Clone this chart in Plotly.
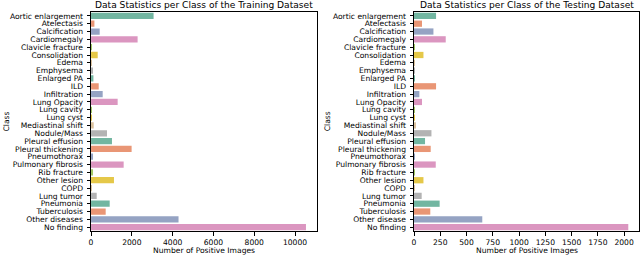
import colorsys
import plotly.graph_objects as go
from plotly.subplots import make_subplots

train_classes = ["Aortic enlargement", "Atelectasis", "Calcification", "Cardiomegaly",
                 "Clavicle fracture", "Consolidation", "Edema", "Emphysema", "Enlarged PA",
                 "ILD", "Infiltration", "Lung Opacity", "Lung cavity", "Lung cyst",
                 "Mediastinal shift", "Nodule/Mass", "Pleural effusion", "Pleural thickening",
                 "Pneumothorax", "Pulmonary fibrosis", "Rib fracture", "Other lesion", "COPD",
                 "Lung tumor", "Pneumonia", "Tuberculosis", "Other diseases", "No finding"]
test_classes = train_classes[:-2] + ["Other disease", "No finding"]

train_counts = [3067, 166, 425, 2284, 20, 328, 5, 50, 117, 377, 572, 1306, 20, 15,
                132, 783, 1027, 1990, 80, 1600, 60, 1125, 10, 279, 915, 719, 4290, 10537]
test_counts = [210, 76, 185, 302, 2, 90, 2, 3, 5, 210, 51, 76, 2, 2,
               10, 166, 105, 159, 7, 207, 4, 90, 2, 73, 244, 155, 650, 2040]

train_ticks = [0, 2000, 4000, 6000, 8000, 10000]
test_ticks = [0, 250, 500, 750, 1000, 1250, 1500, 1750, 2000]

titles = ["Data Statistics per Class of the Training Dataset",
          "Data Statistics per Class of the Testing Dataset"]
x_title = "Number of Positive Images"
y_title = "Class"

set2 = ["#66c2a5", "#fc8d62", "#8da0cb", "#e78ac3", "#a6d854", "#ffd92f", "#e5c494", "#b3b3b3"]


def desat(hexc, s=0.75):
    r, g, b = (int(hexc[i:i + 2], 16) / 255 for i in (1, 3, 5))
    h, l, sat = colorsys.rgb_to_hls(r, g, b)
    r, g, b = colorsys.hls_to_rgb(h, l, sat * s)
    return "rgb(%d,%d,%d)" % (round(r * 255), round(g * 255), round(b * 255))


pal = [desat(c) for c in set2]
colors = [pal[i % 8] for i in range(len(train_classes))]

W, H = 640, 256
FONT = "DejaVu Sans"
fig = make_subplots(rows=1, cols=2)

fig.add_trace(go.Bar(x=train_counts, y=train_classes, orientation="h",
                     marker=dict(color=colors, line=dict(width=0))), row=1, col=1)
fig.add_trace(go.Bar(x=test_counts, y=test_classes, orientation="h",
                     marker=dict(color=colors, line=dict(width=0))), row=1, col=2)

top, bottom = 12, 232
ydom = [1 - bottom / H, 1 - top / H]
xdoms = [[89.3 / W, 315.7 / W], [413.3 / W, 639 / W]]

axcommon = dict(showline=True, linecolor="black", linewidth=1, mirror=True,
                ticks="outside", ticklen=3.5, tickwidth=0.8, tickcolor="black",
                showgrid=False, zeroline=False,
                tickfont=dict(family=FONT, size=7.6, color="black"))

fig.update_xaxes(**axcommon)
fig.update_yaxes(**axcommon)
fig.update_layout(
    xaxis=dict(domain=xdoms[0], range=[0, max(train_counts) * 1.05],
               tickmode="array", tickvals=train_ticks, ticktext=[str(v) for v in train_ticks]),
    xaxis2=dict(domain=xdoms[1], range=[0, max(test_counts) * 1.05],
                tickmode="array", tickvals=test_ticks, ticktext=[str(v) for v in test_ticks]),
    yaxis=dict(domain=ydom, autorange="reversed", type="category", ticklabelstandoff=2,
               tickmode="array", tickvals=train_classes, ticktext=train_classes),
    yaxis2=dict(domain=ydom, autorange="reversed", type="category", ticklabelstandoff=2,
                tickmode="array", tickvals=test_classes, ticktext=test_classes),
)

ann = []
for i in range(2):
    cx = (xdoms[i][0] + xdoms[i][1]) / 2
    ann.append(dict(text=titles[i], x=cx, y=1 - 5.5 / H, xref="paper", yref="paper",
                    xanchor="center", yanchor="middle", showarrow=False,
                    font=dict(family=FONT, size=9.1, color="black")))
    ann.append(dict(text=x_title, x=cx, y=1 - 251.5 / H, xref="paper", yref="paper",
                    xanchor="center", yanchor="middle", showarrow=False,
                    font=dict(family=FONT, size=7.6, color="black")))
ann.append(dict(text=y_title, x=5 / W, y=1 - 122 / H, xref="paper", yref="paper",
                xanchor="center", yanchor="middle", showarrow=False, textangle=-90,
                font=dict(family=FONT, size=7.6, color="black")))
ann.append(dict(text=y_title, x=326.7 / W, y=1 - 122 / H, xref="paper", yref="paper",
                xanchor="center", yanchor="middle", showarrow=False, textangle=-90,
                font=dict(family=FONT, size=7.6, color="black")))

fig.update_layout(width=W, height=H, margin=dict(l=0, r=0, t=0, b=0),
                  paper_bgcolor="white", plot_bgcolor="white", showlegend=False,
                  bargap=0.2, annotations=ann, font=dict(family=FONT))

fig.write_html("out.html", config={"displayModeBar": False},
               post_script="document.body.style.margin='0';document.body.style.overflow='hidden';")
